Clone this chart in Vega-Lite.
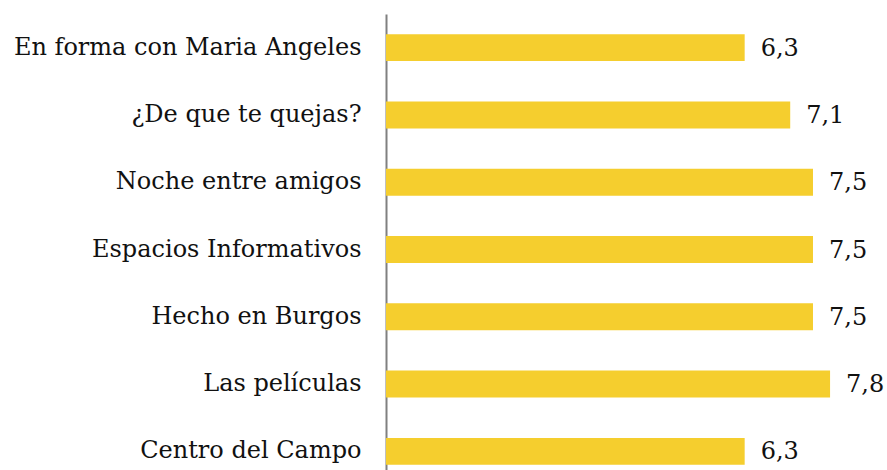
{
  "$schema": "https://vega.github.io/schema/vega-lite/v6.json",
  "autosize": {"type": "none"},
  "padding": {"left": 386, "top": 14, "right": 0, "bottom": 0},
  "width": 501,
  "height": 471,
  "config": {
    "view": {"stroke": null},
    "locale": {"number": {"decimal": ",", "thousands": ".", "grouping": [3], "currency": ["", " €"]}},
    "font": "DejaVu Serif"
  },
  "data": {
    "values": [
      {"programa": "En forma con Maria Angeles", "nota": 6.3},
      {"programa": "¿De que te quejas?", "nota": 7.1},
      {"programa": "Noche entre amigos", "nota": 7.5},
      {"programa": "Espacios Informativos", "nota": 7.5},
      {"programa": "Hecho en Burgos", "nota": 7.5},
      {"programa": "Las películas", "nota": 7.8},
      {"programa": "Centro del Campo", "nota": 6.3}
    ]
  },
  "encoding": {
    "y": {
      "field": "programa", "type": "nominal", "sort": null,
      "scale": {"paddingInner": 0.6, "paddingOuter": 0.3},
      "axis": {"title": null, "ticks": false, "domainColor": "#808080", "domainWidth": 2, "labelFont": "DejaVu Serif", "labelFontSize": 24, "labelColor": "#111111", "labelPadding": 25, "labelLimit": 0}
    },
    "x": {
      "field": "nota", "type": "quantitative",
      "scale": {"domain": [0, 8.8], "nice": false},
      "axis": null
    }
  },
  "layer": [
    {"mark": {"type": "bar", "color": "#F5CE2E"}},
    {"mark": {"type": "text", "align": "left", "baseline": "middle", "dx": 16, "dy": 1, "font": "DejaVu Serif", "fontSize": 24, "color": "#111111"},
     "encoding": {"text": {"field": "nota", "type": "quantitative", "format": ".1f"}}}
  ]
}
